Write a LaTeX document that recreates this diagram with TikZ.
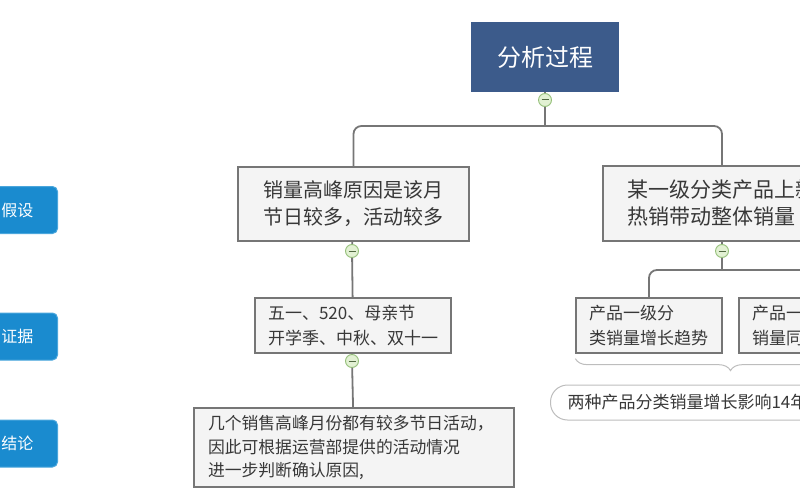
\documentclass[tikz,border=0pt]{standalone}
\usepackage{fontspec}
\setmainfont{Noto Sans CJK SC}
\usetikzlibrary{positioning, calc, shapes, decorations.pathreplacing, arrows.meta}

\definecolor{rootblue}{HTML}{3C5B8B}
\definecolor{tagblue}{HTML}{1A8BCF}
\definecolor{tagrim}{HTML}{4AA6DC}
\definecolor{boxgray}{HTML}{F4F4F4}
\definecolor{edgegray}{HTML}{767676}
\definecolor{textgray}{HTML}{383838}
\definecolor{togglefill}{HTML}{E2F1D3}
\definecolor{togglerim}{HTML}{95C07A}
\definecolor{bracegray}{HTML}{BDBDBD}

\begin{document}
\begin{tikzpicture}[x=1pt, y=-1pt,
  box/.style={rectangle, draw=edgegray, line width=1.3pt, fill=boxgray, text=textgray, inner ysep=0pt, align=left},
  toggle/.style={circle, draw=togglerim, fill=togglefill, line width=0.9pt, minimum size=13pt, inner sep=0pt,
    path picture={\draw[togglerim!55!black, line width=1pt] ([xshift=-3.5pt]path picture bounding box.center) -- ([xshift=3.5pt]path picture bounding box.center);}},
  link/.style={draw=edgegray, line width=1.8pt, rounded corners=8pt},
  tag/.style={rectangle, rounded corners=5pt, draw=tagrim, line width=1pt, fill=tagblue, text=white,
    font=\fontsize{16}{16}\selectfont, minimum height=47pt, inner xsep=24pt, anchor=east}]
  \useasboundingbox (0,0) rectangle (800,500);
  \clip (0,0) rectangle (800,500);

  % left side labels
  \node[tag] (tag1) at (58,210) {假设};
  \node[tag] (tag2) at (58,336.5) {证据};
  \node[tag] (tag3) at (58,443.5) {结论};

  % tree
  \node[rectangle, fill=rootblue, text=white, minimum width=148pt, minimum height=70pt, font=\fontsize{24}{24}\selectfont] (root) at (545,57) {分析过程};
  \node[box, minimum width=231pt, minimum height=74pt, font=\fontsize{20}{27}\selectfont] (hyp1) at (353.5,204) {销量高峰原因是该月\\节日较多，活动较多};
  \node[box, minimum width=238pt, minimum height=75pt, text width=190pt, inner xsep=24pt, font=\fontsize{21}{27}\selectfont] (hyp2) at (722,203.5) {某一级分类产品上新\\热销带动整体销量};
  \node[box, minimum width=196pt, minimum height=55pt, font=\fontsize{17}{25}\selectfont] (ev1) at (353,325.5) {五一、520、母亲节\\开学季、中秋、双十一};
  \node[box, minimum width=146pt, minimum height=55pt, text width=120pt, inner xsep=13pt, font=\fontsize{17}{25}\selectfont] (ev2a) at (649,325.5) {产品一级分\\类销量增长趋势};
  \node[box, minimum width=146pt, minimum height=55pt, text width=120pt, inner xsep=13pt, font=\fontsize{17}{25}\selectfont] (ev2b) at (812,325.5) {产品一\\销量同};
  \node[box, minimum width=320pt, minimum height=79pt, text width=292pt, inner xsep=14pt, font=\fontsize{16.8}{23.5}\selectfont] (concl) at (354,447.5) {几个销售高峰月份都有较多节日活动，\\因此可根据运营部提供的活动情况\\进一步判断确认原因,};
  \node[rectangle, rounded corners=17pt, draw=bracegray, line width=1pt, fill=white, text=textgray, anchor=west,
    minimum height=35pt, inner xsep=17pt, font=\fontsize{17}{17}\selectfont] (sum2) at (550,402.5) {两种产品分类销量增长影响14年\hspace{40pt}};

  \node[toggle] (t0) at (545,100) {};
  \node[toggle] (t1) at (352,251) {};
  \node[toggle] (t2) at (722,251) {};
  \node[toggle] (t3) at (352,361) {};
  \coordinate (bar0) at (545,126);
  \coordinate (bar2) at (722,270);

  \draw[link] (root) -- (t0);
  \draw[link] (t0) -- (bar0);
  \draw[link] (bar0) -| (hyp1);
  \draw[link] (bar0) -| (hyp2);
  \draw[link] (hyp1) -- (t1);
  \draw[link] (t1) -- (ev1);
  \draw[link] (ev1) -- (t3);
  \draw[link] (t3) -- (concl);
  \draw[link] (hyp2) -- (t2);
  \draw[link] (t2) -- (bar2);
  \draw[link] (bar2) -| (ev2a);
  \draw[link] (bar2) -| (ev2b);
  \draw[bracegray, line width=1pt, decorate, decoration={brace, mirror, amplitude=12pt}]
    ([yshift=-5pt]ev2a.south west) -- ([yshift=-5pt]ev2b.south east);
\end{tikzpicture}
\end{document}
